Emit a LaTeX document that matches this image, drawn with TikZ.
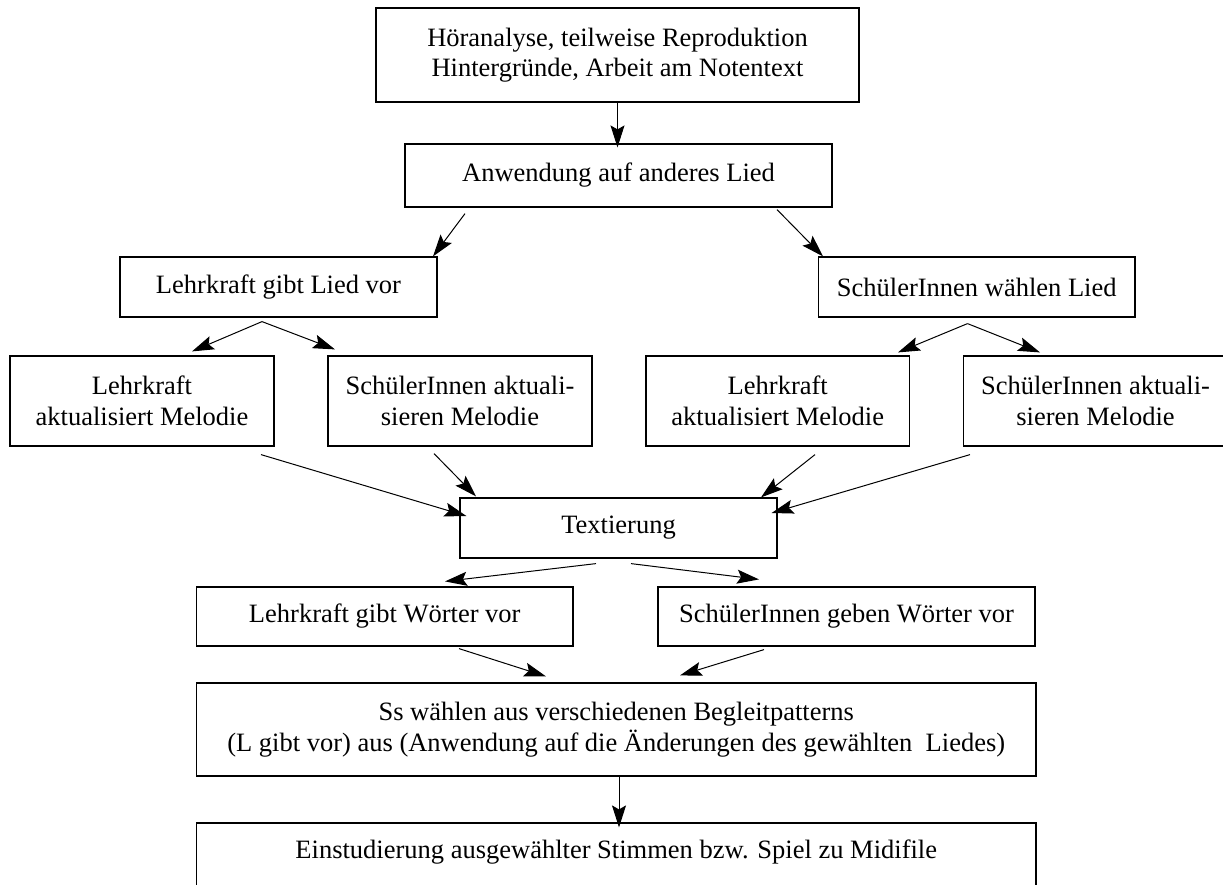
\documentclass[tikz,border=0pt]{standalone}
\usepackage{fontspec}
\setmainfont{Liberation Serif}
\usetikzlibrary{arrows.meta}
\tikzset{
  box/.style={draw=black, line width=1.2pt, inner sep=0pt, align=center,
    font=\fontsize{26.5}{30.5}\selectfont},
  arr/.style={draw=black, line width=1pt, -{Stealth[length=22pt,width=14pt,inset=4pt]}},
}
\begin{document}
\begin{tikzpicture}[x=1pt,y=-1pt]
\useasboundingbox (0,0) rectangle (1223,884);
\clip (0,0) rectangle (1223,884);
\node[box, minimum width=483pt, minimum height=94pt] (top) at (617.5,55)
  {Höranalyse, teilweise Reproduktion\\Hintergründe, Arbeit am Notentext};
\node[box, minimum width=427pt, minimum height=63pt] (anw) at (618.5,175.5)
  {Anwendung auf anderes Lied};
\node[box, minimum width=317pt, minimum height=60pt] (lgl) at (278.5,287)
  {Lehrkraft gibt Lied vor};
\node[box, minimum width=316.5pt, minimum height=60pt] (swl) at (976.75,287)
  {SchülerInnen wählen Lied};
\node[box, minimum width=264pt, minimum height=90pt] (lam1) at (142,401)
  {Lehrkraft\\aktualisiert Melodie};
\node[box, minimum width=264pt, minimum height=90pt] (sam1) at (460,401)
  {SchülerInnen aktuali-\\sieren Melodie};
\node[box, minimum width=263.5pt, minimum height=90pt] (lam2) at (777.75,401)
  {Lehrkraft\\aktualisiert Melodie};
\node[box, minimum width=264pt, minimum height=90pt] (sam2) at (1095.5,401)
  {SchülerInnen aktuali-\\sieren Melodie};
\node[box, minimum width=317pt, minimum height=60pt] (tex) at (618.5,528)
  {Textierung};
\node[box, minimum width=376.5pt, minimum height=59pt] (lgw) at (384.75,616.5)
  {Lehrkraft gibt Wörter vor};
\node[box, minimum width=377pt, minimum height=59pt] (sgw) at (846.5,616.5)
  {SchülerInnen geben Wörter vor};
\node[box, minimum width=839.5pt, minimum height=93pt] (ss) at (616.25,729.5)
  {Ss wählen aus verschiedenen Begleitpatterns\\(L gibt vor) aus (Anwendung auf die Änderungen des gewählten~ Liedes)};
\node[box, minimum width=839.5pt, minimum height=83pt] (ein) at (616.25,864.5)
  {Einstudierung ausgewählter Stimmen bzw. Spiel zu Midifile\\\mbox{}};
% connectors
\draw[arr] (top.south) -- ([shift={(-1,4)}]anw.north);
\draw[arr] ([shift={(-153.5,6)}]anw.south) -- ([shift={(154.5,0)}]lgl.north);
\draw[arr] ([shift={(158.5,2)}]anw.south) -- ([shift={(-153.75,0)}]swl.north);
\draw[arr] ([shift={(-16.5,4)}]lgl.south) -- ([shift={(50,-4)}]lam1.north);
\draw[arr] ([shift={(-16.5,4)}]lgl.south) -- ([shift={(-125,-6)}]sam1.north);
\draw[arr] ([shift={(-9.25,6)}]swl.south) -- ([shift={(120.25,-3)}]lam2.north);
\draw[arr] ([shift={(-9.25,6)}]swl.south) -- ([shift={(-55.5,-3)}]sam2.north);
\draw[arr] ([shift={(119,8)}]lam1.south) -- ([shift={(7,-12)}]tex.west);
\draw[arr] ([shift={(-26,7)}]sam1.south) -- ([shift={(-142.5,-1)}]tex.north);
\draw[arr] ([shift={(37.25,8)}]lam2.south) -- ([shift={(142.5,0)}]tex.north);
\draw[arr] ([shift={(-125.5,8)}]sam2.south) -- ([shift={(-6,-15)}]tex.east);
\draw[arr] ([shift={(-22.5,5)}]tex.south) -- ([shift={(60.25,-5)}]lgw.north);
\draw[arr] ([shift={(12.5,5)}]tex.south) -- ([shift={(-87.5,-7)}]sgw.north);
\draw[arr] ([shift={(74.25,2)}]lgw.south) -- ([shift={(-70.25,-6)}]ss.north);
\draw[arr] ([shift={(-82.5,3)}]sgw.south) -- ([shift={(63.75,-7)}]ss.north);
\draw[arr] ([shift={(2.75,0)}]ss.south) -- ([shift={(2.75,5)}]ein.north);
\end{tikzpicture}
\end{document}
